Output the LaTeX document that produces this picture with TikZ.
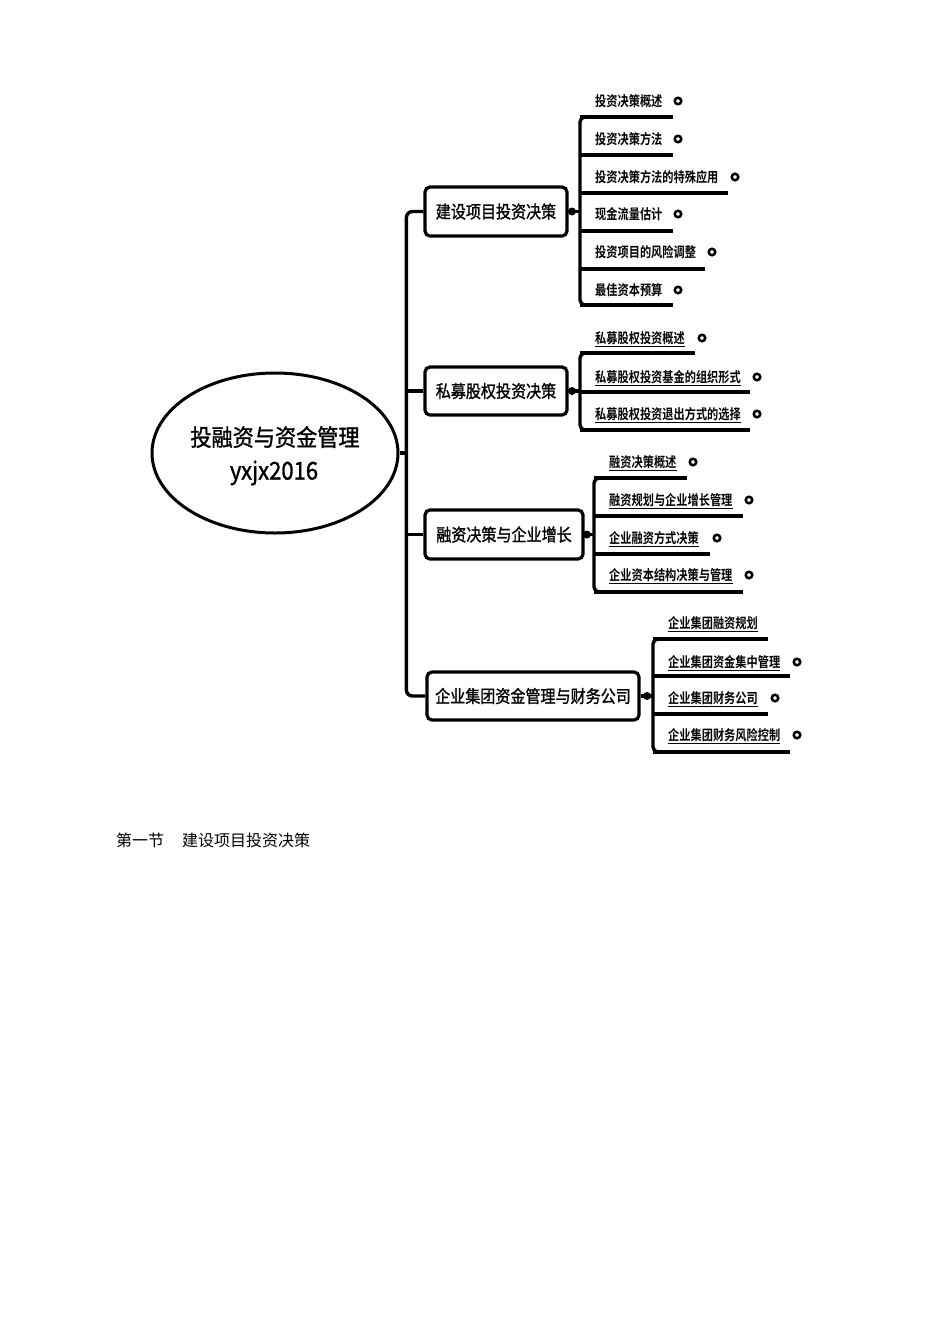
\documentclass[tikz,border=0pt]{standalone}
\usepackage{fontspec}
\newfontfamily\cjk{Noto Sans CJK SC}
\newfontfamily\cjkbox[FakeStretch=0.86,FakeBold=1.2]{Noto Sans CJK SC}
\newfontfamily\cjkitem[FakeStretch=0.8,UprightFont=* Bold]{Noto Sans CJK SC}
\newfontfamily\cjkel[FakeStretch=0.9,FakeBold=1.2]{Noto Sans CJK SC}
\usetikzlibrary{shapes.geometric}
\begin{document}
\begin{tikzpicture}[x=1pt,y=-1pt,
  ln/.style={line width=3.4pt, black},
  ulx/.style={line width=0.9pt, black},
  topicbox/.style={draw, line width=3.2pt, rounded corners=5pt, inner sep=0pt, fill=white},
  boxtext/.style={font=\cjkbox\fontsize{17.5}{17.5}\selectfont},
  itemtext/.style={anchor=base west, inner sep=0pt, font=\cjkitem\fontsize{14}{14}\selectfont},
  ring/.style={circle, draw, line width=2.5pt, minimum size=6.5pt, inner sep=0pt, fill=white},
  joint/.style={circle, fill=black, minimum size=8pt, inner sep=0pt},
  eltext/.style={inner sep=0pt, font=\cjkel\fontsize{23.5}{23.5}\selectfont}]
\useasboundingbox[fill=white] (0,0) rectangle (950,1344);

% central ellipse
\node[ellipse, draw, line width=3pt, minimum width=246pt, minimum height=160pt, inner sep=0pt] (el) at (275,453) {};
\node[eltext] (elt1) at (275,437) {投融资与资金管理};
\node[eltext, font=\cjkel\fontsize{24.5}{24.5}\selectfont] (elt2) at (274,473) {yxjx2016};

% topic boxes
\node[topicbox, minimum width=142pt, minimum height=49pt] (b1) at (496,211.5) {};
\node[boxtext] at (b1) {建设项目投资决策};
\node[topicbox, minimum width=142pt, minimum height=48pt] (b2) at (496,391) {};
\node[boxtext] at (b2) {私募股权投资决策};
\node[topicbox, minimum width=158pt, minimum height=49pt] (b3) at (504,534.5) {};
\node[boxtext] at (b3) {融资决策与企业增长};
\node[topicbox, minimum width=212pt, minimum height=48pt] (b4) at (533,696) {};
\node[boxtext] at (b4) {企业集团资金管理与财务公司};

% trunk
\coordinate (t2) at (408,391);
\coordinate (t3) at (408,534.5);
\coordinate (te) at (408,453);
\draw[ln, rounded corners=6pt] (b1.west) -- ++(-17,0) |- (b4.west);
\draw[ln] (b2.west) -- (t2);
\draw[ln] (b3.west) -- (t3);
\draw[ln] (el.east) -- (te);

% group 1
\coordinate (s1) at (580,211.5);
\draw[ln] (b1.east) -- (s1);
\node[joint] (j1) at (572,211.5) {};
\draw[ln, rounded corners=5pt] (600,117) -- (580,117) -- (580,305) -- (600,305);
\foreach \t/\ty/\uy/\ex/\dx [count=\k] in {投资决策概述/101/117/673/678, 投资决策方法/139/155/673/678, 投资决策方法的特殊应用/177/193/728/735, 现金流量估计/214/231/673/678, 投资项目的风险调整/252/269/705/712, 最佳资本预算/290/305/673/678}{
  \node[itemtext] (ia-\k) at (595,\ty+5.5) {\t};
  \node[ring] (ra-\k) at (\dx,\ty) {};
  \coordinate (ua-\k) at (\ex,\uy);
  \draw[ln] (580,\uy) -- (ua-\k);
}

% group 2
\coordinate (s2) at (580,391);
\draw[ln] (b2.east) -- (s2);
\node[joint] (j2) at (572,391) {};
\draw[ln, rounded corners=5pt] (600,353) -- (580,353) -- (580,430) -- (600,430);
\foreach \t/\ty/\uy/\ex/\dx [count=\k] in {私募股权投资概述/338/353/695/702, 私募股权投资基金的组织形式/377/392/750/757, 私募股权投资退出方式的选择/414/430/750/757}{
  \node[itemtext] (ib-\k) at (595,\ty+5.5) {\t};
  \draw[ulx] ([yshift=-2.5pt]ib-\k.base west) -- ([yshift=-2.5pt]ib-\k.base east);
  \node[ring] (rb-\k) at (\dx,\ty) {};
  \coordinate (ub-\k) at (\ex,\uy);
  \draw[ln] (580,\uy) -- (ub-\k);
}

% group 3
\coordinate (s3) at (594,534.5);
\draw[ln] (b3.east) -- (s3);
\node[joint] (j3) at (587,534.5) {};
\draw[ln, rounded corners=5pt] (614,478) -- (594,478) -- (594,592) -- (614,592);
\foreach \t/\ty/\uy/\ex/\dx [count=\k] in {融资决策概述/462/478/687/693, 融资规划与企业增长管理/500/516/743/749, 企业融资方式决策/538/554/710/717, 企业资本结构决策与管理/575/592/743/749}{
  \node[itemtext] (ic-\k) at (609,\ty+5.5) {\t};
  \draw[ulx] ([yshift=-2.5pt]ic-\k.base west) -- ([yshift=-2.5pt]ic-\k.base east);
  \node[ring] (rc-\k) at (\dx,\ty) {};
  \coordinate (uc-\k) at (\ex,\uy);
  \draw[ln] (594,\uy) -- (uc-\k);
}

% group 4
\coordinate (s4) at (653,696);
\draw[ln] (b4.east) -- (s4);
\node[joint] (j4) at (647,696) {};
\draw[ln, rounded corners=5pt] (673,639) -- (653,639) -- (653,752) -- (673,752);
\foreach \t/\ty/\uy/\ex/\dx [count=\k] in {企业集团融资规划/623/639/768/0, 企业集团资金集中管理/662/676/790/797, 企业集团财务公司/698/714/768/775, 企业集团财务风险控制/735/752/790/797}{
  \node[itemtext] (id-\k) at (668,\ty+5.5) {\t};
  \draw[ulx] ([yshift=-2.5pt]id-\k.base west) -- ([yshift=-2.5pt]id-\k.base east);
  \ifnum\dx>0 \node[ring] (rd-\k) at (\dx,\ty) {};\fi
  \coordinate (ud-\k) at (\ex,\uy);
  \draw[ln] (653,\uy) -- (ud-\k);
}

% caption text
\node[anchor=base west, inner sep=0pt, font=\cjk\fontsize{16}{16}\selectfont] (cap) at (116,846) {第一节\hspace{18pt}建设项目投资决策};
\end{tikzpicture}
\end{document}
